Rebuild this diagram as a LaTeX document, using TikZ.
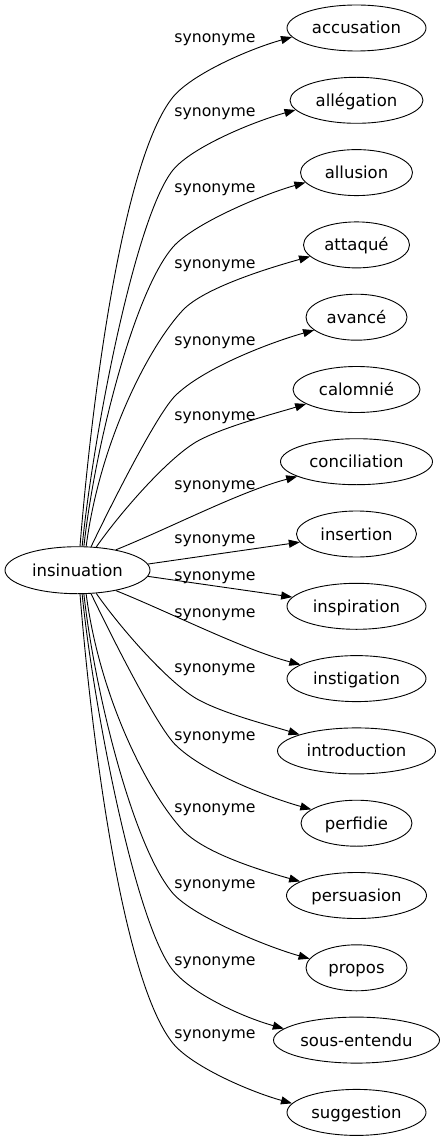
\documentclass[tikz,border=0pt]{standalone}
\usepackage{fontspec}
\setmainfont{DejaVu Sans}
\usetikzlibrary{shapes.geometric,arrows.meta}
\begin{document}
\begin{tikzpicture}[x=1pt,y=-1pt,
  word/.style={ellipse,draw,line width=0.9pt,inner sep=0pt,minimum height=46pt,
    font=\fontsize{16.5}{19}\selectfont,text height=12pt,text depth=0pt},
  lab/.style={anchor=base,font=\fontsize{15.7}{18}\selectfont,inner sep=0pt},
  edge/.style={line width=0.9pt,-{Triangle[length=11pt,width=8pt]}}]
\useasboundingbox (0,0) rectangle (445,1139);
% nodes
\node[word,minimum width=145pt,minimum height=47pt] (ins) at (77.5,570.2) {insinuation};
\node[word,minimum width=139pt] (acc)   at (356.5,28.0)   {accusation};
\node[word,minimum width=133pt] (alleg) at (356.5,100.3)  {allégation};
\node[word,minimum width=112pt] (allus) at (356.5,172.6)  {allusion};
\node[word,minimum width=106pt] (att)   at (356.5,244.9)  {attaqué};
\node[word,minimum width=101pt] (avan)  at (356.5,317.2)  {avancé};
\node[word,minimum width=127pt] (calo)  at (356.5,389.5)  {calomnié};
\node[word,minimum width=152pt] (conc)  at (356.5,461.7)  {conciliation};
\node[word,minimum width=120pt] (inser) at (356.5,534.0)  {insertion};
\node[word,minimum width=139pt] (insp)  at (356.5,606.3)  {inspiration};
\node[word,minimum width=139pt] (inst)  at (356.5,678.6)  {instigation};
\node[word,minimum width=158pt] (intro) at (356.5,750.9)  {introduction};
\node[word,minimum width=111pt] (perf)  at (356.5,823.2)  {perfidie};
\node[word,minimum width=140pt] (pers)  at (356.5,895.5)  {persuasion};
\node[word,minimum width=101pt] (prop)  at (356.5,967.8)  {propos};
\node[word,minimum width=166pt] (sous)  at (356.5,1040.1) {sous-entendu};
\node[word,minimum width=139pt] (sugg)  at (356.5,1112.4) {suggestion};
% upper edges
\draw[edge] (ins.84) .. controls +(12,-150) and (123,159) .. (173,97)
  .. controls (192,74) and +(-43,12) .. (acc.188);
\draw[edge] (ins.79) .. controls +(11,-110) and (135,217) .. (173,170)
  .. controls (192,147) and +(-43,12) .. (alleg.189);
\draw[edge] (ins.75) .. controls +(11,-100) and (134,292) .. (173,247)
  .. controls (193,224) and +(-43,12) .. (allus.191);
\draw[edge] (ins.70) .. controls +(14,-107) and (150,345) .. (183,310)
  .. controls (204,288) and +(-43,12) .. (att.194);
\draw[edge] (ins.60) .. controls +(26,-54) and (157.5,414) .. (175,396)
  .. controls (203,368) and +(-43,12) .. (avan.197);
\draw[edge] (ins.51) .. controls +(23,-33) and (166,460) .. (196,442)
  .. controls (222,427) and +(-29,9) .. (calo.196);
\draw[edge] (ins.28) .. controls (170,528) and +(-57,15) .. (conc.194);
\draw[edge] (ins.5) -- (inser);
% lower edges
\draw[edge] (ins.-5) -- (insp);
\draw[edge] (ins.-28) .. controls (170,612.4) and +(-57,-15) .. (inst.166);
\draw[edge] (ins.-51) .. controls +(23,33) and (166,680.4) .. (196,698.4)
  .. controls (222,713.4) and +(-29,-9) .. (intro.164);
\draw[edge] (ins.-60) .. controls +(26,54) and (157.5,726.4) .. (175,744.4)
  .. controls (203,772.4) and +(-43,-12) .. (perf.163);
\draw[edge] (ins.-70) .. controls +(14,107) and (150,795.4) .. (183,830.4)
  .. controls (204,852.4) and +(-43,-12) .. (pers.166);
\draw[edge] (ins.-75) .. controls +(11,100) and (134,848.4) .. (173,893.4)
  .. controls (193,916.4) and +(-43,-12) .. (prop.169);
\draw[edge] (ins.-79) .. controls +(11,110) and (135,923.4) .. (173,970.4)
  .. controls (192,993.4) and +(-43,-12) .. (sous.171);
\draw[edge] (ins.-84) .. controls +(12,150) and (123,981.4) .. (173,1043.4)
  .. controls (192,1066.4) and +(-43,-12) .. (sugg.172);
% labels
\node[lab] (l1)  at (215,43)   {synonyme};
\node[lab] (l2)  at (215,117)  {synonyme};
\node[lab] (l3)  at (215,193)  {synonyme};
\node[lab] (l4)  at (215,269)  {synonyme};
\node[lab] (l5)  at (215,345)  {synonyme};
\node[lab] (l6)  at (215,420)  {synonyme};
\node[lab] (l7)  at (215,489)  {synonyme};
\node[lab] (l8)  at (215,543)  {synonyme};
\node[lab] (l9)  at (215,580)  {synonyme};
\node[lab] (l10) at (215,617)  {synonyme};
\node[lab] (l11) at (215,672)  {synonyme};
\node[lab] (l12) at (215,740)  {synonyme};
\node[lab] (l13) at (215,812)  {synonyme};
\node[lab] (l14) at (215,888)  {synonyme};
\node[lab] (l15) at (215,965)  {synonyme};
\node[lab] (l16) at (215,1038) {synonyme};
\end{tikzpicture}
\end{document}
